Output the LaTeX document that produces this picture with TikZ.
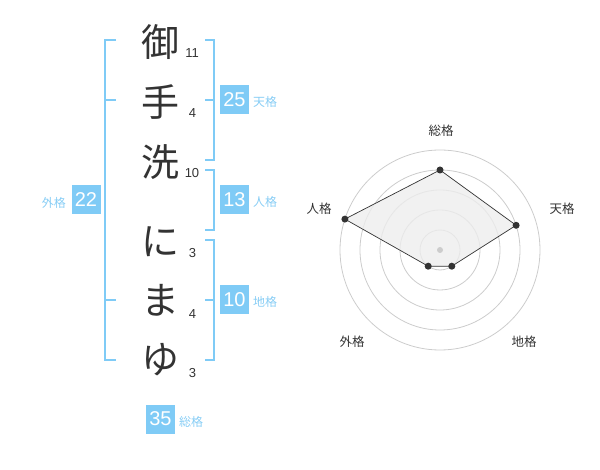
\documentclass[tikz,border=0pt]{standalone}
\usepackage{fontspec}
\setmainfont{Liberation Sans}
\newfontfamily\jp{Noto Sans CJK JP}
\definecolor{kblue}{RGB}{127,203,246}
\definecolor{klabel}{RGB}{135,205,245}
\definecolor{ink}{RGB}{51,51,51}
\definecolor{gridc}{RGB}{204,204,204}
\begin{document}
\begin{tikzpicture}[x=1pt,y=-1pt,
  bigchar/.style={font=\jp\fontsize{38}{38}\selectfont, text=ink, inner sep=0pt},
  stroke/.style={font=\fontsize{13}{13}\selectfont, text=ink, inner sep=0pt},
  bracket/.style={draw=kblue, line width=2pt},
  numbox/.style={fill=kblue, text=white, minimum size=29pt, inner sep=0pt, font=\fontsize{20}{20}\selectfont},
  kaku/.style={font=\jp\fontsize{12}{12}\selectfont, text=klabel, inner sep=0pt},
  rlabel/.style={font=\jp\fontsize{12.5}{12.5}\selectfont, text=ink, inner sep=0pt},
  gridline/.style={draw=gridc, line width=0.8pt},
  vdot/.style={circle, fill=ink, inner sep=0pt, minimum size=7pt}
]
\useasboundingbox (0,0) rectangle (600,470);
% characters
\node[bigchar] (c1) at (160,42) {御};
\node[bigchar] (c2) at (160,102) {手};
\node[bigchar] (c3) at (160,162) {洗};
\node[bigchar] (c4) at (160,242) {に};
\node[bigchar] (c5) at (160,300) {ま};
\node[bigchar] (c6) at (160,360) {ゆ};
% stroke counts
\node[stroke] (s1) at (192,53) {11};
\node[stroke] (s2) at (192.5,113) {4};
\node[stroke] (s3) at (192,173) {10};
\node[stroke] (s4) at (192.5,253) {3};
\node[stroke] (s5) at (192.5,314) {4};
\node[stroke] (s6) at (192.5,373) {3};
% left bracket (gaikaku)
\draw[bracket] (116,40) -- (105,40) -- (105,360) -- (116,360);
\draw[bracket] (105,100) -- (116,100);
\draw[bracket] (105,300) -- (116,300);
% right brackets
\draw[bracket] (205,40) -- (214,40) -- (214,160) -- (205,160);
\draw[bracket] (214,100) -- (205,100);
\draw[bracket] (205,170) -- (214,170) -- (214,230) -- (205,230);
\draw[bracket] (205,240) -- (214,240) -- (214,360) -- (205,360);
\draw[bracket] (214,300) -- (205,300);
% number boxes
\node[numbox] (b25) at (234.5,100) {25};
\node[kaku, anchor=west] (l25) at (253,102) {天格};
\node[numbox] (b13) at (234.5,200) {13};
\node[kaku, anchor=west] (l13) at (253,202) {人格};
\node[numbox] (b10) at (234.5,300) {10};
\node[kaku, anchor=west] (l10) at (253,302) {地格};
\node[numbox] (b22) at (86,200) {22};
\node[kaku, anchor=east] (l22) at (66,203) {外格};
\node[numbox] (b35) at (160.5,419) {35};
\node[kaku, anchor=west] (l35) at (179,422) {総格};
% radar
\coordinate (rc) at (440,250);
\foreach \r in {20,40,60,80,100} \draw[gridline] (rc) circle[radius=\r];
\coordinate (pS) at (440,170);
\coordinate (pT) at (516.1,225.3);
\coordinate (pC) at (451.8,266.2);
\coordinate (pG) at (428.2,266.2);
\coordinate (pJ) at (344.9,219.1);
\filldraw[fill=black!7, fill opacity=0.8, draw=ink, line width=0.7pt] (pS) -- (pT) -- (pC) -- (pG) -- (pJ) -- cycle;
\node[circle, fill=gridc, inner sep=0pt, minimum size=6pt] (cdot) at (rc) {};
\foreach \p in {pS,pT,pC,pG,pJ} \node[vdot] (d\p) at (\p) {};
\node[rlabel] (rS) at (441,131) {総格};
\node[rlabel] (rT) at (562,209) {天格};
\node[rlabel] (rJ) at (319,209) {人格};
\node[rlabel] (rG) at (352,342) {外格};
\node[rlabel] (rC) at (524,342) {地格};
\end{tikzpicture}
\end{document}
